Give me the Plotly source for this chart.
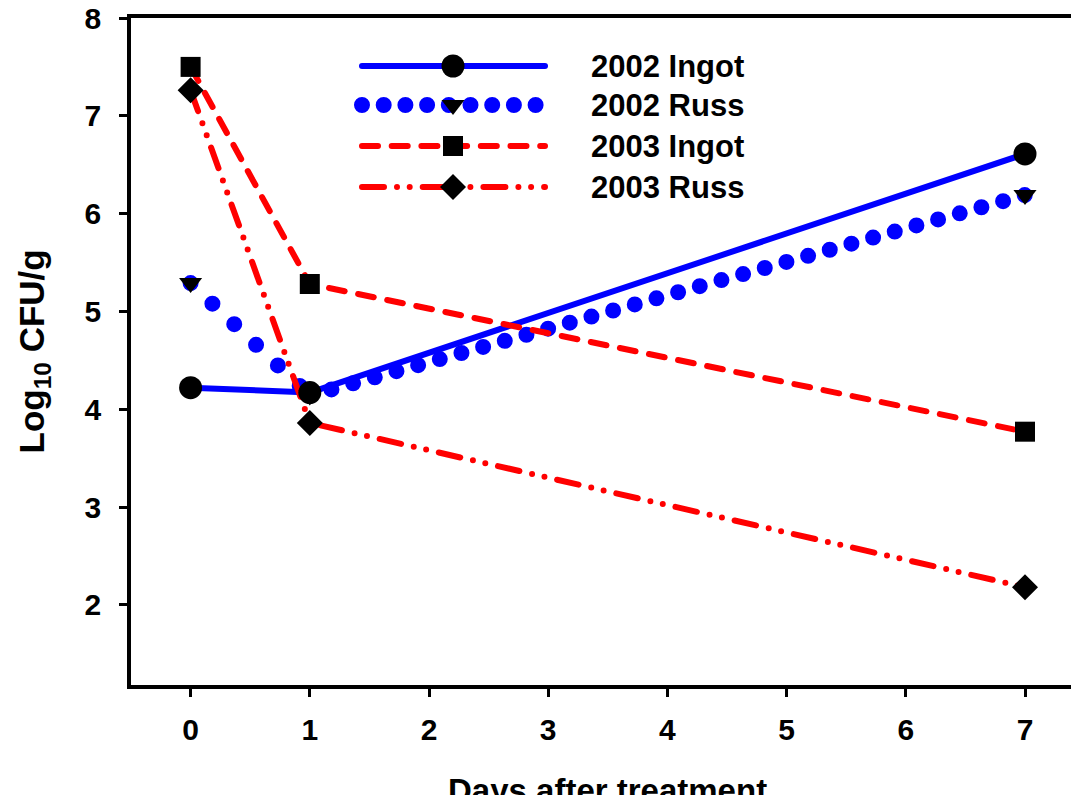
import plotly.graph_objects as go

# ---- data ----
days = [0, 1, 7]
series_names = ["2002 Ingot", "2002 Russ", "2003 Ingot", "2003 Russ"]
ingot_2002 = [4.22, 4.17, 6.61]
russ_2002 = [5.29, 4.14, 6.19]
ingot_2003 = [7.50, 5.28, 3.77]
russ_2003 = [7.26, 3.86, 2.18]
x_ticks = [0, 1, 2, 3, 4, 5, 6, 7]
y_ticks = [2, 3, 4, 5, 6, 7, 8]

FONT = "Liberation Sans, Arial, sans-serif"
BLUE = "#0000ff"
RED = "#ff0000"

styles = [
    dict(color=BLUE, width=6, dash="solid", symbol="circle", size=23),
    dict(color=BLUE, width=16, dash="0px,22.5px", symbol="triangle-down", size=20),
    dict(color=RED, width=6, dash="16px,13.7px", symbol="square", size=20),
    dict(color=RED, width=6, dash="22px,13px,0px,12.7px,0px,13px", symbol="diamond", size=20),
]
values = [ingot_2002, russ_2002, ingot_2003, russ_2003]

fig = go.Figure()

# lines
for i, (ys, st) in enumerate(zip(values, styles)):
    if i == 1:
        fig.add_trace(go.Scatter(x=days[:2], y=ys[:2], mode="lines",
                                 line=dict(color=st["color"], width=st["width"], dash="0px,30px"),
                                 showlegend=False, hoverinfo="skip"))
        fig.add_trace(go.Scatter(x=days[1:], y=ys[1:], mode="lines",
                                 line=dict(color=st["color"], width=st["width"], dash=st["dash"]),
                                 showlegend=False, hoverinfo="skip"))
    else:
        fig.add_trace(go.Scatter(x=days, y=ys, mode="lines",
                                 line=dict(color=st["color"], width=st["width"], dash=st["dash"]),
                                 showlegend=False, hoverinfo="skip"))

# markers
for name, ys, st in zip(series_names, values, styles):
    fig.add_trace(go.Scatter(x=days, y=ys, mode="markers", name=name,
                             marker=dict(symbol=st["symbol"], size=st["size"], color="black",
                                         line=dict(width=0)),
                             showlegend=False))

# ---- custom legend (long line samples) on an overlay axis in pixel units ----
leg_x0, leg_x1, leg_xm, leg_text_x = 362, 545, 453, 589
leg_rows = [66, 105, 146, 187]
for name, st, yy in zip(series_names, styles, leg_rows):
    dash = st["dash"]
    if st["symbol"] == "triangle-down":
        dash = "0px,21.7px"
    fig.add_trace(go.Scatter(x=[leg_x0, leg_x1], y=[yy, yy], mode="lines",
                             line=dict(color=st["color"], width=st["width"], dash=dash),
                             xaxis="x2", yaxis="y2", showlegend=False, hoverinfo="skip"))
    fig.add_trace(go.Scatter(x=[leg_xm], y=[yy], mode="markers",
                             marker=dict(symbol=st["symbol"], size=st["size"], color="black",
                                         line=dict(width=0)),
                             xaxis="x2", yaxis="y2", showlegend=False, hoverinfo="skip"))
    fig.add_annotation(x=leg_text_x, y=yy, xref="x2", yref="y2", text=name,
                       showarrow=False, xanchor="left", yanchor="middle",
                       font=dict(family=FONT, size=31, color="black", weight="bold"))

W, H = 1071, 795
L, R, T, B = 131, 0, 18, 110

fig.update_layout(
    width=W, height=H,
    margin=dict(l=L, r=R, t=T, b=B, autoexpand=False),
    paper_bgcolor="white", plot_bgcolor="white",
    showlegend=False,
    font=dict(family=FONT, size=30, color="black", weight="bold"),
    xaxis=dict(range=[-0.5, (W - L) / 119.2 - 0.5], tickvals=x_ticks,
               showgrid=False, zeroline=False, automargin=False,
               showline=True, linecolor="black", linewidth=3.5, mirror=True,
               ticks="outside", ticklen=8, tickwidth=3, tickcolor="black",
               ticklabelstandoff=7,
               tickfont=dict(family=FONT, size=30, color="black", weight="bold")),
    yaxis=dict(range=[8 - (H - B - T) / 97.8, 8], tickvals=y_ticks,
               showgrid=False, zeroline=False, automargin=False,
               showline=True, linecolor="black", linewidth=3.5, mirror=False,
               ticks="outside", ticklen=8, tickwidth=3, tickcolor="black",
               ticklabelstandoff=12,
               tickfont=dict(family=FONT, size=30, color="black", weight="bold")),
    xaxis2=dict(range=[L, W], overlaying="x", visible=False, fixedrange=True),
    yaxis2=dict(range=[H - B, T], overlaying="y", visible=False, fixedrange=True),
)

# axis titles
fig.add_annotation(x=3.5, xref="x", y=-(770 - (H - B)) / (H - B - T), yref="paper",
                   text="Days after treatment", showarrow=False,
                   xanchor="center", yanchor="top",
                   font=dict(family=FONT, size=33, color="black", weight="bold"))
fig.add_annotation(x=-(L - 33) / (W - L - R), xref="paper", y=0.5, yref="paper",
                   text="Log<sub>10</sub> CFU/g", textangle=-90, showarrow=False,
                   xanchor="center", yanchor="middle",
                   font=dict(family=FONT, size=35, color="black", weight="bold"))

post = ("document.body.style.margin='0';"
        "document.documentElement.style.overflow='hidden';"
        "var s=document.createElement('style');"
        "s.innerHTML='.js-line{stroke-linecap:round;stroke-linejoin:round;}';"
        "document.head.appendChild(s);")
fig.write_html("out.html", post_script=post, config={"displayModeBar": False})
